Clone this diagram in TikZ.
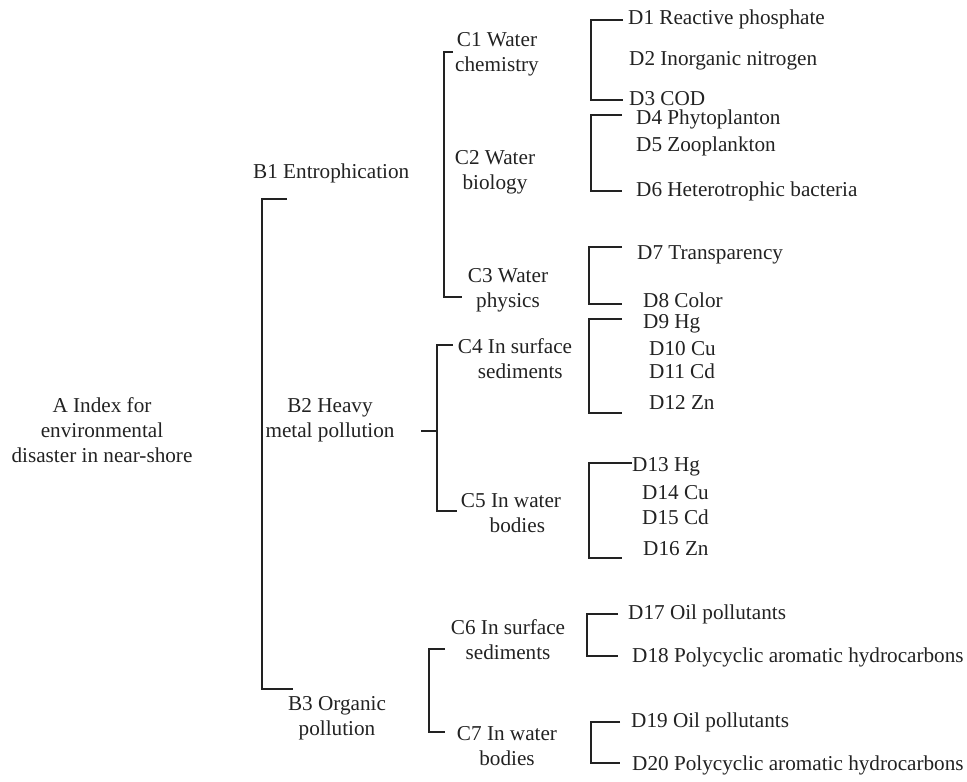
\documentclass[tikz,border=0pt]{standalone}
\usepackage{fontspec}
\setmainfont{Liberation Serif}
\definecolor{ink}{HTML}{222222}
\begin{document}
\begin{tikzpicture}[x=1pt,y=-1pt,
  lbl/.style={inner sep=0pt,text=ink,font=\fontsize{21.2}{25}\selectfont},
  dl/.style={lbl,anchor=west,text height=0.9em,text depth=0.25em,yshift=-4pt},
  ml/.style={lbl,align=center,anchor=center,yshift=-1pt},
  brk/.style={draw=ink,line width=1.6pt}]
\useasboundingbox (0,0) rectangle (967,782);
% A
\node[ml] (a) at (102,429) {A Index for\\environmental\\disaster in near-shore};
% B
\node[dl] (b1) at (253,171) {B1 Entrophication};
\node[ml] (b2) at (330,419) {B2 Heavy\\metal pollution};
\node[ml] (b3) at (337,717) {B3 Organic\\pollution};
% C
\node[ml] (c1) at (497,53) {C1 Water\\chemistry};
\node[ml] (c2) at (495,171) {C2 Water\\biology};
\node[ml] (c3) at (508,289) {C3 Water\\physics};
\node[ml] (c4) at (515,358) {C4 In surface\\\hspace*{0.5em}sediments};
\node[ml] (c5) at (511,512) {C5 In water\\\hspace*{0.6em}bodies};
\node[ml] (c6) at (508,639) {C6 In surface\\sediments};
\node[ml] (c7) at (507,745) {C7 In water\\bodies};
% D
\node[dl] (d1) at (628,17) {D1 Reactive phosphate};
\node[dl] (d2) at (629,58) {D2 Inorganic nitrogen};
\node[dl] (d3) at (629,98) {D3 COD};
\node[dl] (d4) at (636,117) {D4 Phytoplanton};
\node[dl] (d5) at (636,144) {D5 Zooplankton};
\node[dl] (d6) at (636,189) {D6 Heterotrophic bacteria};
\node[dl] (d7) at (637,252) {D7 Transparency};
\node[dl] (d8) at (643,300) {D8 Color};
\node[dl] (d9) at (643,321) {D9 Hg};
\node[dl] (d10) at (649,348) {D10 Cu};
\node[dl] (d11) at (649,371) {D11 Cd};
\node[dl] (d12) at (649,402) {D12 Zn};
\node[dl] (d13) at (632,464) {D13 Hg};
\node[dl] (d14) at (642,492) {D14 Cu};
\node[dl] (d15) at (642,517) {D15 Cd};
\node[dl] (d16) at (643,548) {D16 Zn};
\node[dl] (d17) at (628,612) {D17 Oil pollutants};
\node[dl] (d18) at (632,655) {D18 Polycyclic aromatic hydrocarbons};
\node[dl] (d19) at (631,720) {D19 Oil pollutants};
\node[dl] (d20) at (632,763) {D20 Polycyclic aromatic hydrocarbons};
% bracket corners
\coordinate (btr) at (287,199); \coordinate (bbl) at (262,689); \coordinate (bbr) at (293,689);
\coordinate (c1tr) at (453,52); \coordinate (c1bl) at (444,297); \coordinate (c1br) at (462,297);
\coordinate (c4tr) at (453,345); \coordinate (c4bl) at (437,511); \coordinate (c4br) at (457,511);
\coordinate (b2s) at (421,431); \coordinate (b2e) at (437,431);
\coordinate (c6tr) at (445,649); \coordinate (c6bl) at (429,732); \coordinate (c6br) at (445,732);
\coordinate (k1tr) at (623,20); \coordinate (k1bl) at (591,100); \coordinate (k1br) at (623,100);
\coordinate (k2tr) at (622,115); \coordinate (k2bl) at (591,191); \coordinate (k2br) at (622,191);
\coordinate (k3tr) at (622,247); \coordinate (k3bl) at (589,304); \coordinate (k3br) at (622,304);
\coordinate (k4tr) at (622,319); \coordinate (k4bl) at (589,413); \coordinate (k4br) at (622,413);
\coordinate (k5tr) at (632,463); \coordinate (k5bl) at (589,558); \coordinate (k5br) at (622,558);
\coordinate (k6tr) at (618,614); \coordinate (k6bl) at (587,656); \coordinate (k6br) at (618,656);
\coordinate (k7tr) at (620,722); \coordinate (k7bl) at (591,763); \coordinate (k7br) at (620,763);
% brackets
\draw[brk] (btr) -| (bbl) -- (bbr);
\draw[brk] (c1tr) -| (c1bl) -- (c1br);
\draw[brk] (c4tr) -| (c4bl) -- (c4br);
\draw[brk] (b2s) -- (b2e);
\draw[brk] (c6tr) -| (c6bl) -- (c6br);
\foreach \k in {k1,k2,k3,k4,k5,k6,k7}{
  \draw[brk] (\k tr) -| (\k bl) -- (\k br);
}
\end{tikzpicture}
\end{document}
